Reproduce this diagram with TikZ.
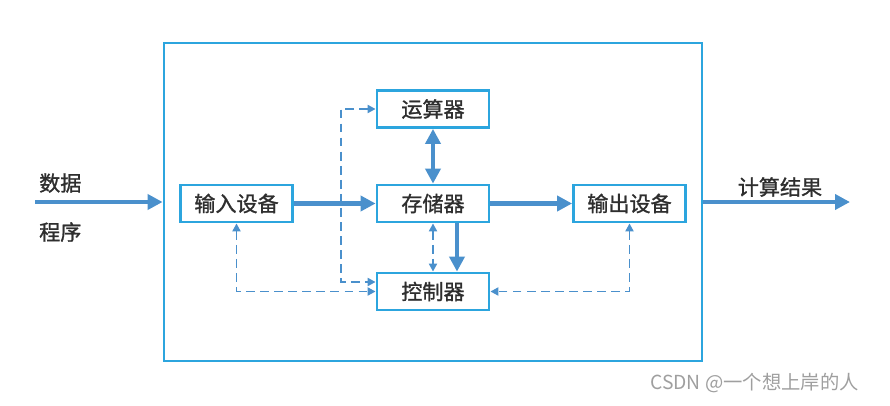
\documentclass[tikz,border=0pt]{standalone}
\usepackage{fontspec}
\setmainfont{Noto Sans CJK SC}
\newfontfamily\cjkmed{Noto Sans CJK SC}[FakeBold=1.2]
\usetikzlibrary{positioning, arrows.meta, calc}
\definecolor{boxblue}{HTML}{2CA5DE}
\definecolor{arrowblue}{HTML}{4A90CC}
\definecolor{txtgray}{HTML}{2E2E2E}

\begin{document}
\begin{tikzpicture}[
    % font=\small,
    unit/.style={draw=boxblue, line width=1.6pt, minimum width=2.24cm, minimum height=0.74cm, inner sep=0pt, font=\cjkmed\fontsize{12}{14}\selectfont, text=txtgray},
    bus/.style={draw=arrowblue, line width=2.5pt, -{Triangle[length=8.5pt,width=8.5pt]}},
    ctrl/.style={draw=arrowblue, line width=1.1pt, dash pattern=on 5pt off 3pt, {Triangle[length=4.5pt,width=4.5pt]}-{Triangle[length=4.5pt,width=4.5pt]}},
    lbl/.style={font=\cjkmed\fontsize{12}{14}\selectfont, text=txtgray},
]
\useasboundingbox (0,0) rectangle (17.8,8.1);

\node[draw=boxblue, line width=1.6pt, minimum width=10.76cm, minimum height=6.36cm] (frame) at (8.66,4.06) {};

\node[unit] (alu) at (8.66,5.92) {运算器};
\node[unit] (mem) at (8.66,4.03) {存储器};
\node[unit] (inp) at (4.73,4.03) {输入设备};
\node[unit] (outp) at (12.59,4.03) {输出设备};
\node[unit] (ctl) at (8.66,2.27) {控制器};

\coordinate (src) at (0.70,4.06);
\coordinate (sink) at (17.0,4.06);
\node[lbl, anchor=west] (data) at (0.66,4.44) {数据};
\node[lbl, anchor=west] (prog) at (0.66,3.46) {程序};
\node[lbl] (result) at (15.6,4.36) {计算结果};

% data paths
\draw[bus] (src) -- (frame.west);
\draw[bus] (frame.east) -- (sink);
\draw[bus] (inp) -- (mem);
\draw[bus] (mem) -- (outp);
\draw[bus, {Triangle[length=8.5pt,width=8.5pt]}-{Triangle[length=8.5pt,width=8.5pt]}] (alu) -- (mem);
\draw[bus] ($(mem.south)+(0.48,0)$) -- ($(ctl.north)+(0.48,0)$);

% control signals
\draw[ctrl] (alu.west) -| ($(ctl.west)+(-0.70,0.19)$) -- ($(ctl.west)+(0,0.19)$);
\draw[ctrl] (inp.south) |- (ctl.west);
\draw[ctrl] (outp.south) |- (ctl.east);
\draw[ctrl] (mem.south) -- (ctl.north);

\node[font=\fontsize{11}{13}\selectfont, text=gray!75, anchor=east] (mark) at (17.3,0.44) {CSDN @一个想上岸的人};
\end{tikzpicture}
\end{document}
